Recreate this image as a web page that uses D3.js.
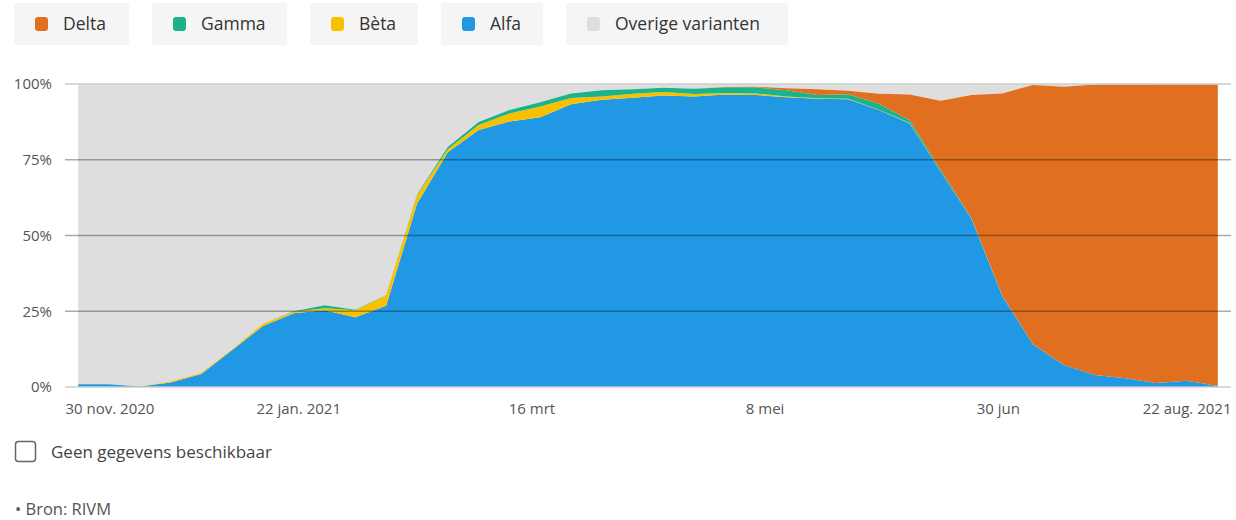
<!DOCTYPE html>
<html>
<head>
<meta charset="utf-8">
<script src="https://cdn.jsdelivr.net/npm/d3@7"></script>
<style>
  body { margin: 0; background: #fff; font-family: "Open Sans", sans-serif; }
  .tick text { fill: #555; font-size: 15px; font-family: "Open Sans", sans-serif; }
</style>
</head>
<body>
<svg id="chart" width="1236" height="520"></svg>
<script>
// Weekly samples (Thursday of each week), share per variant in %
const weeks = [
  "2020-12-03", "2020-12-10", "2020-12-17", "2020-12-24", "2020-12-31",
  "2021-01-07", "2021-01-14", "2021-01-21", "2021-01-28", "2021-02-04",
  "2021-02-11", "2021-02-18", "2021-02-25", "2021-03-04", "2021-03-11",
  "2021-03-18", "2021-03-25", "2021-04-01", "2021-04-08", "2021-04-15",
  "2021-04-22", "2021-04-29", "2021-05-06", "2021-05-13", "2021-05-20",
  "2021-05-27", "2021-06-03", "2021-06-10", "2021-06-17", "2021-06-24",
  "2021-07-01", "2021-07-08", "2021-07-15", "2021-07-22", "2021-07-29",
  "2021-08-05", "2021-08-12", "2021-08-19"
];
const alfa = [
  0.9, 0.9, 0.2, 1.5, 4.3, 12.2, 20.1, 24.3, 25.3, 23.0,
  26.8, 60.5, 77.5, 84.8, 87.6, 89.0, 93.3, 94.8, 95.5, 96.2,
  95.9, 96.5, 96.4, 95.6, 95.1, 95.0, 91.4, 87.0, 71.0, 55.5,
  30.0, 14.0, 7.3, 4.0, 2.9, 1.3, 2.1, 0.3
];
const beta = [
  0, 0, 0, 0.3, 0.4, 0.3, 0.8, 0.5, 0.7, 2.3,
  3.5, 2.8, 1.0, 1.7, 2.7, 3.6, 2.1, 1.1, 1.3, 1.2,
  0.8, 0.5, 0.5, 0.3, 0.2, 0.1, 0.1, 0.1, 0, 0,
  0, 0, 0, 0, 0, 0, 0, 0
];
const gamma = [
  0, 0, 0, 0, 0, 0, 0, 0.2, 1.0, 0.2,
  0.1, 0.2, 0.7, 1.0, 1.1, 1.4, 1.5, 2.0, 1.5, 1.4,
  1.7, 1.9, 2.0, 2.0, 1.1, 1.5, 2.0, 0.9, 0.6, 0.3,
  0.2, 0.1, 0, 0, 0, 0, 0, 0
];
const delta = [
  0, 0, 0, 0, 0, 0, 0, 0, 0, 0,
  0, 0, 0, 0, 0, 0, 0, 0, 0, 0,
  0, 0.1, 0.2, 0.7, 1.9, 1.2, 3.3, 8.5, 22.9, 40.6,
  66.7, 85.6, 91.8, 95.8, 96.9, 98.6, 97.8, 99.6
];

const yTicks = [0, 25, 50, 75, 100];
const xTickDates = ["2020-11-30", "2021-01-22", "2021-03-16", "2021-05-08", "2021-06-30", "2021-08-22"];
const xTickLabels = ["30 nov. 2020", "22 jan. 2021", "16 mrt", "8 mei", "30 jun", "22 aug. 2021"];

const legendNames = ["Delta", "Gamma", "Bèta", "Alfa", "Overige varianten"];
const legendColors = ["#e07020", "#1ab38a", "#f9c000", "#2098e4", "#dedede"];

const colors = {alfa: "#2098e4", beta: "#f9c000", gamma: "#1ab38a", delta: "#e07020"};
const overigeColor = "#dedede";

const svg = d3.select("#chart");
const parse = d3.utcParse("%Y-%m-%d");

// --- scales ---------------------------------
const x = d3.scaleUtc()
  .domain([parse(xTickDates[0]), parse(xTickDates[xTickDates.length - 1])])
  .range([65, 1231]);

const y = d3.scaleLinear()
  .domain([0, 100])
  .range([387, 84]);

// Table for the stack
const table = weeks.map((w, i) => ({
  date: parse(w), alfa: alfa[i], beta: beta[i], gamma: gamma[i], delta: delta[i]
}));

const keys = ["alfa", "beta", "gamma", "delta"];
const series = d3.stack().keys(keys)(table);

// --- areas ----------------------------------
const area = d3.area()
  .x(d => x(d.data.date))
  .y0(d => y(d[0]))
  .y1(d => y(d[1]));

// Remaining share: from top of the stack up to 100%
const topLayer = series[series.length - 1];
svg.append("path")
  .datum(topLayer)
  .attr("fill", overigeColor)
  .attr("d", d3.area()
    .x(d => x(d.data.date))
    .y0(d => y(d[1]))
    .y1(y(100)));

svg.append("g")
  .selectAll("path")
  .data(series)
  .join("path")
  .attr("fill", d => colors[d.key])
  .attr("d", area);

// --- grid lines (on top of the areas) --------
svg.append("g")
  .selectAll("line")
  .data(yTicks)
  .join("line")
  .attr("x1", x.range()[0])
  .attr("x2", x.range()[1])
  .attr("y1", d => y(d))
  .attr("y2", d => y(d))
  .attr("stroke", d => (d === 0 || d === 100) ? "#cccccc" : "rgba(0,0,0,0.33)")
  .attr("stroke-width", 1.6);

// --- axes -----------------------------------
const xAxis = svg.append("g")
  .attr("transform", "translate(0,387)")
  .call(d3.axisBottom(x)
    .tickValues(xTickDates.map(parse))
    .tickFormat((d, i) => xTickLabels[i])
    .tickSize(0)
    .tickPadding(16));
xAxis.select(".domain").remove();
xAxis.selectAll(".tick text")
  .attr("text-anchor", (d, i) => i === 0 ? "start" : (i === xTickLabels.length - 1 ? "end" : "middle"));

const yAxis = svg.append("g")
  .attr("transform", "translate(65,0)")
  .call(d3.axisLeft(y)
    .tickValues(yTicks)
    .tickFormat(d => d + "%")
    .tickSize(0)
    .tickPadding(13));
yAxis.select(".domain").remove();

// --- legend ---------------------------------
const legendX = [14, 152, 310, 441, 566];
const legendW = [115, 135, 108, 102, 222];
const legend = svg.append("g")
  .selectAll("g")
  .data(legendNames)
  .join("g")
  .attr("transform", (d, i) => "translate(" + legendX[i] + ",3)");

legend.append("rect")
  .attr("width", (d, i) => legendW[i])
  .attr("height", 42)
  .attr("rx", 3)
  .attr("fill", "#f5f5f5");

legend.append("rect")
  .attr("x", 21)
  .attr("y", 14)
  .attr("width", 13)
  .attr("height", 14)
  .attr("rx", 3)
  .attr("fill", (d, i) => legendColors[i]);

legend.append("text")
  .attr("x", 49)
  .attr("y", 21)
  .attr("dy", "0.35em")
  .attr("fill", "#333")
  .style("font-size", "17.5px")
  .text(d => d);

// --- footer ---------------------------------
svg.append("rect")
  .attr("x", 15.5)
  .attr("y", 441.5)
  .attr("width", 20)
  .attr("height", 20)
  .attr("rx", 3)
  .attr("fill", "#fff")
  .attr("stroke", "#666")
  .attr("stroke-width", 1.5);

svg.append("text")
  .attr("x", 51)
  .attr("y", 452)
  .attr("dy", "0.35em")
  .attr("fill", "#444")
  .style("font-size", "17px")
  .text("Geen gegevens beschikbaar");

svg.append("text")
  .attr("x", 15)
  .attr("y", 509)
  .attr("dy", "0.35em")
  .attr("fill", "#555")
  .style("font-size", "16.5px")
  .text("• Bron: RIVM");
</script>
</body>
</html>
